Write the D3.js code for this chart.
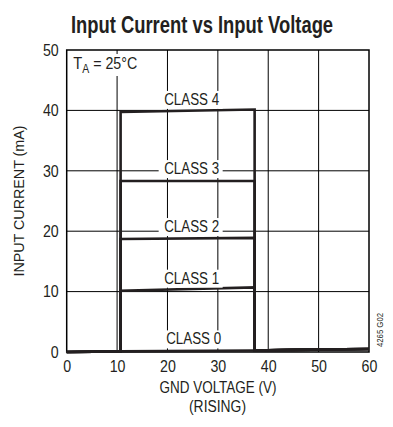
<!DOCTYPE html>
<html>
<head>
<meta charset="utf-8">
<script src="https://cdn.jsdelivr.net/npm/d3@7"></script>
<style>
  body { margin: 0; background: #fff; }
  svg { display: block; font-family: "Liberation Sans Narrow", "Liberation Sans", sans-serif; }
</style>
</head>
<body>
<svg id="chart" width="393" height="427"></svg>
<script>
// values
const xTicks = [0, 10, 20, 30, 40, 50, 60];
const yTicks = [0, 10, 20, 30, 40, 50];

const classNames = ["CLASS 0", "CLASS 1", "CLASS 2", "CLASS 3", "CLASS 4"];
// voltage points (V) shared by every class curve
const voltage = [0, 10.7, 10.7, 37.3, 37.3, 45, 60];
// current (mA) for each class at those voltages
const class0 = [0, 0.1, 0.1, 0.25, 0.25, 0.35, 0.5];
const class1 = [0, 0.1, 10.15, 10.7, 0.25, 0.35, 0.5];
const class2 = [0, 0.1, 18.7, 18.9, 0.25, 0.35, 0.5];
const class3 = [0, 0.1, 28.3, 28.3, 0.25, 0.35, 0.5];
const class4 = [0, 0.1, 39.75, 40.15, 0.25, 0.35, 0.5];
const series = [class0, class1, class2, class3, class4];
// where each class label sits (V)
const labelVoltage = [25.2, 24.8, 24.8, 24.8, 24.8];

const svg = d3.select("#chart");
const margin = {top: 50, left: 66.7, bottom: 75, right: 24};
const width = +svg.attr("width");
const height = +svg.attr("height");

const x = d3.scaleLinear().domain([0, 60]).range([margin.left, width - margin.right]);
const y = d3.scaleLinear().domain([0, 50]).range([height - margin.bottom, margin.top]);

const ink = "#231f20";

// no narrow face installed: squeeze text to the condensed widths of the original
const narrow = (sel, len) => sel.attr("textLength", len).attr("lengthAdjust", "spacingAndGlyphs");

// title (condensed with a horizontal scale)
svg.append("g")
    .attr("transform", "translate(202,33) scale(0.8,1)")
    .append("text")
    .attr("text-anchor", "middle")
    .attr("font-size", "23px")
    .attr("font-weight", "bold")
    .attr("fill", ink)
    .text("Input Current vs Input Voltage");

// grid
svg.append("g")
    .selectAll("line")
    .data(xTicks.slice(1, -1))
    .join("line")
    .attr("x1", d => x(d)).attr("x2", d => x(d))
    .attr("y1", y(50)).attr("y2", y(0))
    .attr("stroke", "#000").attr("stroke-width", 1);

svg.append("g")
    .selectAll("line")
    .data(yTicks.slice(1, -1))
    .join("line")
    .attr("x1", x(0)).attr("x2", x(60))
    .attr("y1", d => y(d)).attr("y2", d => y(d))
    .attr("stroke", "#000").attr("stroke-width", 1);

svg.append("rect")
    .attr("x", x(0)).attr("y", y(50))
    .attr("width", x(60) - x(0)).attr("height", y(0) - y(50))
    .attr("fill", "none").attr("stroke", "#000").attr("stroke-width", 1.5);

// axes (labels only)
const xAxis = svg.append("g")
    .attr("transform", `translate(0,${y(0)})`)
    .call(d3.axisBottom(x).tickValues(xTicks).tickSize(0).tickPadding(8));
const yAxis = svg.append("g")
    .attr("transform", `translate(${x(0)},0)`)
    .call(d3.axisLeft(y).tickValues(yTicks).tickSize(0).tickPadding(8));
[xAxis, yAxis].forEach(a => {
    a.select(".domain").remove();
    a.selectAll("text")
        .attr("font-family", '"Liberation Sans Narrow", "Liberation Sans", sans-serif')
        .attr("font-size", "16.5px")
        .attr("fill", ink)
        .each(function() {
            const t = d3.select(this);
            t.call(narrow, 7.9 * t.text().length);
        });
});

// curves
const line = d3.line()
    .x((d, i) => x(voltage[i]))
    .y(d => y(d));

svg.append("g")
    .selectAll("path")
    .data(series)
    .join("path")
    .attr("d", line)
    .attr("fill", "none")
    .attr("stroke", ink)
    .attr("stroke-width", 2.6)
    .attr("stroke-linejoin", "miter");

// class labels with white knockout
const labels = svg.append("g")
    .selectAll("g")
    .data(classNames)
    .join("g")
    .attr("transform", (d, i) => `translate(${x(labelVoltage[i])},${y(series[i][2]) - 7})`);

labels.append("rect")
    .attr("x", -33).attr("y", -14)
    .attr("width", 64).attr("height", 18)
    .attr("fill", "#fff");

labels.append("text")
    .attr("text-anchor", "middle")
    .attr("font-size", "16px")
    .attr("fill", ink)
    .text(d => d)
    .call(narrow, 55);

// T_A note
const note = svg.append("g").attr("transform", `translate(${x(0) + 6.5},${y(50) + 19})`);
note.append("rect").attr("x", -2).attr("y", -15).attr("width", 68).attr("height", 22).attr("fill", "#fff");
const noteText = note.append("text").attr("font-size", "16px").attr("fill", ink);
noteText.append("tspan").text("T").call(narrow, 9);
noteText.append("tspan").attr("dy", 4).attr("font-size", "12px").text("A").call(narrow, 7);
noteText.append("tspan").attr("dy", -4).text(" = 25°C").call(narrow, 48);

// axis titles
svg.append("text")
    .attr("transform", `translate(24,${(y(0) + y(50)) / 2}) rotate(-90)`)
    .attr("text-anchor", "middle")
    .attr("font-size", "15.5px")
    .attr("fill", ink)
    .text("INPUT CURRENT (mA)")
    .call(narrow, 151);

svg.append("text")
    .attr("x", 218)
    .attr("y", 393)
    .attr("text-anchor", "middle")
    .attr("font-size", "16px")
    .attr("fill", ink)
    .text("GND VOLTAGE (V)")
    .call(narrow, 117);

svg.append("text")
    .attr("x", 217.5)
    .attr("y", 412)
    .attr("text-anchor", "middle")
    .attr("font-size", "16px")
    .attr("fill", ink)
    .text("(RISING)")
    .call(narrow, 57);

// figure id
svg.append("text")
    .attr("transform", `translate(383,${330}) rotate(-90)`)
    .attr("text-anchor", "middle")
    .attr("font-size", "9px")
    .attr("fill", ink)
    .text("4265 G02")
    .call(narrow, 34);
</script>
</body>
</html>
